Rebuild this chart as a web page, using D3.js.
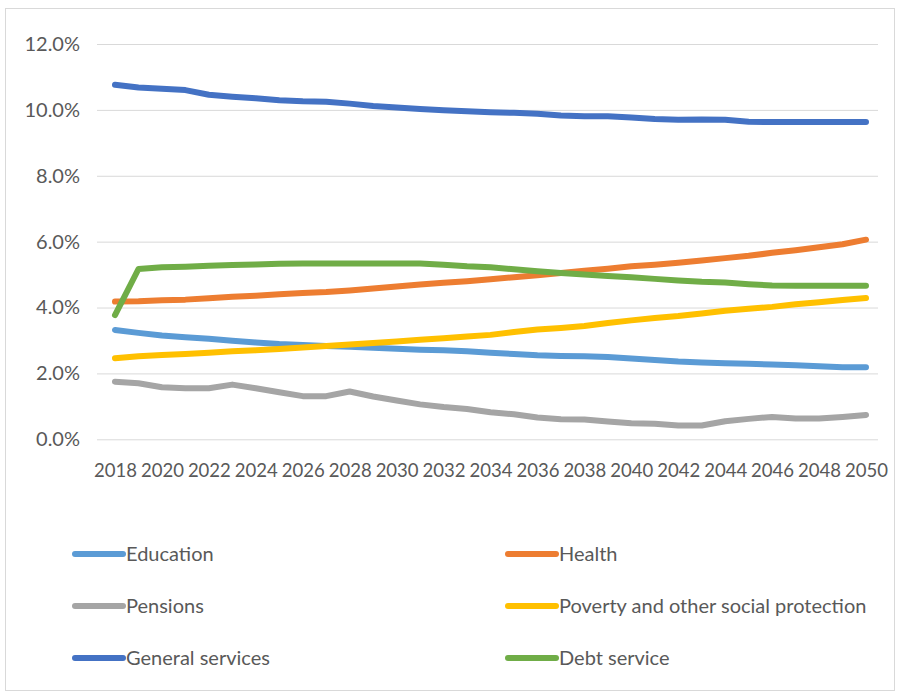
<!DOCTYPE html>
<html>
<head>
<meta charset="utf-8">
<script src="https://cdn.jsdelivr.net/npm/d3@7"></script>
<style>
  html, body { margin: 0; padding: 0; background: #ffffff; }
  svg { display: block; }
  text { font-family: Lato, "Open Sans", sans-serif; fill: #595959; }
</style>
</head>
<body>
<svg id="chart" width="904" height="697"></svg>
<script>
// Years on the category axis
const years = d3.range(2018, 2051);

// Spending shares (% of GDP), one value per year 2018–2050
const education = [3.32, 3.23, 3.15, 3.10, 3.05, 2.99, 2.94, 2.89, 2.86, 2.83, 2.81, 2.78, 2.75, 2.72, 2.70, 2.67, 2.63, 2.59, 2.55, 2.53, 2.52, 2.50, 2.45, 2.41, 2.36, 2.33, 2.31, 2.29, 2.27, 2.25, 2.22, 2.19, 2.19];
const health = [4.18, 4.19, 4.22, 4.24, 4.28, 4.33, 4.36, 4.40, 4.44, 4.47, 4.52, 4.58, 4.64, 4.70, 4.75, 4.80, 4.86, 4.92, 4.98, 5.05, 5.12, 5.18, 5.25, 5.30, 5.36, 5.43, 5.50, 5.57, 5.66, 5.74, 5.83, 5.92, 6.06];
const pensions = [1.75, 1.70, 1.58, 1.55, 1.55, 1.66, 1.55, 1.43, 1.31, 1.31, 1.45, 1.30, 1.18, 1.06, 0.98, 0.92, 0.82, 0.76, 0.66, 0.61, 0.60, 0.54, 0.49, 0.47, 0.42, 0.42, 0.55, 0.62, 0.68, 0.63, 0.63, 0.68, 0.74];
const poverty = [2.46, 2.52, 2.56, 2.59, 2.63, 2.67, 2.70, 2.74, 2.79, 2.83, 2.88, 2.92, 2.97, 3.02, 3.07, 3.12, 3.17, 3.26, 3.33, 3.38, 3.44, 3.53, 3.61, 3.68, 3.74, 3.82, 3.90, 3.96, 4.02, 4.10, 4.16, 4.23, 4.29];
const generalServices = [10.76, 10.68, 10.64, 10.60, 10.46, 10.40, 10.35, 10.29, 10.26, 10.25, 10.19, 10.12, 10.07, 10.03, 9.99, 9.96, 9.93, 9.91, 9.88, 9.83, 9.81, 9.81, 9.77, 9.72, 9.70, 9.71, 9.70, 9.64, 9.63, 9.63, 9.63, 9.63, 9.63];
const debtService = [3.77, 5.17, 5.22, 5.24, 5.27, 5.29, 5.31, 5.33, 5.34, 5.34, 5.34, 5.34, 5.34, 5.34, 5.30, 5.25, 5.22, 5.16, 5.10, 5.05, 5.00, 4.96, 4.92, 4.87, 4.82, 4.78, 4.76, 4.71, 4.67, 4.66, 4.66, 4.66, 4.66];

// Tick values
const yTicks = [0, 2, 4, 6, 8, 10, 12];
const xTickYears = years.filter(y => (y - 2018) % 2 === 0);

// Series in legend order
const seriesNames = ["Education", "Health", "Pensions", "Poverty and other social protection", "General services", "Debt service"];
const seriesValues = [education, health, pensions, poverty, generalServices, debtService];
const seriesColors = ["#5B9BD5", "#ED7D31", "#A5A5A5", "#FFC000", "#4472C4", "#70AD47"];

const series = seriesNames.map((name, i) => ({ name, values: seriesValues[i], color: seriesColors[i] }));

const svg = d3.select("#chart");

// Outer chart frame
svg.append("rect")
  .attr("x", 5.5).attr("y", 8.5)
  .attr("width", 889).attr("height", 682)
  .attr("fill", "none").attr("stroke", "#d9d9d9");

const plotLeft = 97, plotRight = 878, plotTop = 44, plotBottom = 439.3;

const x = d3.scalePoint().domain(years).range([115, 866]);
const y = d3.scaleLinear().domain([0, 12]).range([plotBottom, plotTop]);

// Y axis with horizontal gridlines
const yAxis = svg.append("g")
  .attr("transform", `translate(${plotLeft},0)`)
  .call(d3.axisLeft(y)
    .tickValues(yTicks)
    .tickSize(-(plotRight - plotLeft))
    .tickPadding(17)
    .tickFormat(d => d.toFixed(1) + "%"));
yAxis.select(".domain").remove();
yAxis.selectAll(".tick line").attr("stroke", "#d9d9d9").attr("stroke-width", 1);
yAxis.selectAll(".tick text")
  .attr("font-size", 20)
  .attr("font-family", "Lato, sans-serif")
  .attr("fill", "#595959");

// X axis labels every other year, slightly condensed so neighbours keep a gap
const xAxis = svg.append("g")
  .attr("transform", `translate(0,${plotBottom})`)
  .call(d3.axisBottom(x)
    .tickValues(xTickYears)
    .tickSize(0)
    .tickPadding(24)
    .tickFormat(d3.format("d")));
xAxis.select(".domain").remove();
xAxis.selectAll(".tick text")
  .attr("font-size", 20)
  .attr("font-family", "Lato, sans-serif")
  .attr("fill", "#595959")
  .attr("textLength", 43)
  .attr("lengthAdjust", "spacingAndGlyphs");

// Series lines
const line = d3.line()
  .x((d, i) => x(years[i]))
  .y(d => y(d));

svg.append("g")
  .selectAll("path")
  .data(series)
  .join("path")
  .attr("d", d => line(d.values))
  .attr("fill", "none")
  .attr("stroke", d => d.color)
  .attr("stroke-width", 6)
  .attr("stroke-linejoin", "round")
  .attr("stroke-linecap", "round");

// Legend: two columns, three rows
const legendCols = [75, 508];
const legendRows = [554, 606, 658];
const legend = svg.append("g")
  .selectAll("g")
  .data(series)
  .join("g")
  .attr("transform", (d, i) => `translate(${legendCols[i % 2]},${legendRows[Math.floor(i / 2)]})`);

legend.append("line")
  .attr("x1", 0).attr("x2", 48)
  .attr("y1", 0).attr("y2", 0)
  .attr("stroke", d => d.color)
  .attr("stroke-width", 6)
  .attr("stroke-linecap", "round");

legend.append("text")
  .attr("x", 51)
  .attr("y", 0)
  .attr("dy", "0.35em")
  .attr("font-size", 20)
  .text(d => d.name);
</script>
</body>
</html>
